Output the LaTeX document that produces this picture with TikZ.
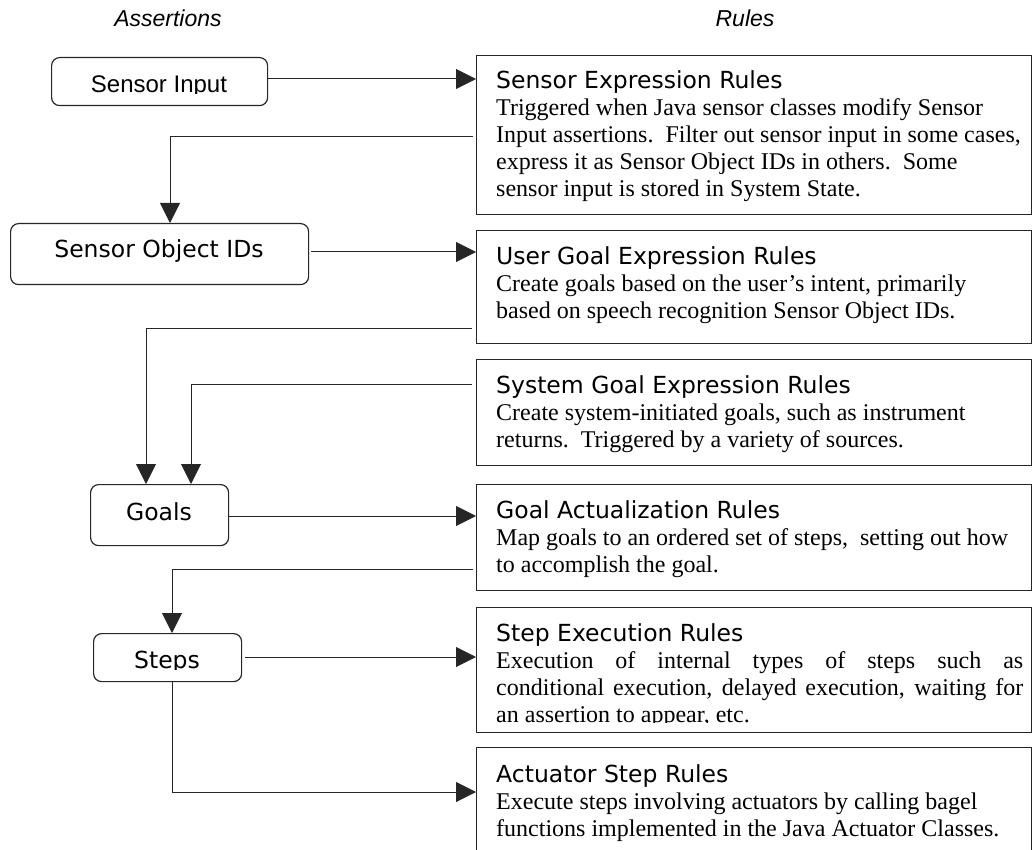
\documentclass[tikz,border=0pt]{standalone}
\usepackage{fontspec}
\setmainfont{Liberation Serif}
\newfontfamily\vfont{DejaVu Sans}
\newfontfamily\afont{Liberation Sans}
\usetikzlibrary{arrows.meta}
\newcommand{\ttl}[1]{{\vfont\fontsize{23.5}{27}\selectfont #1}}
\newcommand{\rtext}[1]{\parbox[t]{527pt}{\fontsize{24}{27}\selectfont\lineskiplimit=-100pt\tolerance=10000\hbadness=10000 #1}}
\begin{document}
\begin{tikzpicture}[x=1pt,y=-1pt,
  rulebox/.style={draw=black!85, line width=1.3pt, rectangle, inner sep=0pt, anchor=north west, minimum width=555pt},
  abox/.style={draw=black!85, line width=1.2pt, rectangle, rounded corners=8pt, inner sep=0pt, anchor=north west},
  alabel/.style={anchor=base, inner sep=0pt, font=\vfont\fontsize{23.5}{27}\selectfont},
  rlabel/.style={anchor=base west, inner sep=0pt},
  head/.style={anchor=base, inner sep=0pt, font=\afont\itshape\fontsize{23}{27}\selectfont},
  conn/.style={draw=black!85, line width=1pt},
  arr/.style={conn, -{Triangle[length=20pt,width=20pt]}}
]
\useasboundingbox (0,0) rectangle (1033,850);
\clip (0,0) rectangle (1033,850);

% headings
\node[head] (hA) at (168,27) {Assertions};
\node[head] (hR) at (745,27) {Rules};

% assertion boxes
\node[abox, minimum width=216pt, minimum height=48pt] (si) at (51,57) {};
\begin{scope}
  \clip (51,57) rectangle (267,94);
  \node[anchor=base, inner sep=0pt, font=\afont\fontsize{24}{28}\selectfont] (sit) at (159,93) {Sensor Input};
\end{scope}
\node[abox, minimum width=298pt, minimum height=61pt] (soid) at (10,223) {};
\node[alabel] (soidt) at (159,258) {Sensor Object IDs};
\node[abox, minimum width=138pt, minimum height=61pt] (goals) at (90,484) {};
\node[alabel] (goalst) at (159,520) {Goals};
\node[abox, minimum width=148pt, minimum height=48pt] (steps) at (93,633) {};
\begin{scope}
  \clip (93,633) rectangle (241,669);
  \node[alabel] (stepst) at (167,668) {Steps};
\end{scope}

% rule boxes
\node[rulebox, minimum height=159pt] (r1) at (476,55) {};
\node[rulebox, minimum height=113pt] (r2) at (476,230) {};
\node[rulebox, minimum height=106pt] (r3) at (476,359) {};
\node[rulebox, minimum height=106pt] (r4) at (476,484) {};
\node[rulebox, minimum height=125pt] (r5) at (476,607) {};
\node[rulebox, minimum height=130pt] (r6) at (476,747) {};

\node[rlabel] (t1) at (496,89) {\rtext{\raggedright\ttl{Sensor Expression Rules}\\
Triggered when Java sensor classes modify Sensor\\
Input assertions.\ \ Filter out sensor input in some cases,\\
express it as Sensor Object IDs in others.\ \ Some\\
sensor input is stored in System State.}};

\node[rlabel] (t2) at (496,265) {\rtext{\raggedright\ttl{User Goal Expression Rules}\\
Create goals based on the user’s intent, primarily\\
based on speech recognition Sensor Object IDs.}};

\node[rlabel] (t3) at (496,393) {\rtext{\raggedright\ttl{System Goal Expression Rules}\\
Create system-initiated goals, such as instrument\\
returns.\ \ Triggered by a variety of sources.}};

\node[rlabel] (t4) at (496,518) {\rtext{\raggedright\ttl{Goal Actualization Rules}\\
Map goals to an ordered set of steps,\ \ setting out how\\
to accomplish the goal.}};

\begin{scope}
  \clip (476,607) rectangle (1033,722);
  \node[rlabel] (t5) at (496,641) {\rtext{\ttl{Step Execution Rules}\\
  Execution of internal types of steps such as\linebreak
  conditional execution, delayed execution, waiting for\linebreak
  an assertion to appear, etc.}};
\end{scope}

\node[rlabel] (t6) at (496,782) {\rtext{\raggedright\ttl{Actuator Step Rules}\\
Execute steps involving actuators by calling bagel\\
functions implemented in the Java Actuator Classes.}};

% connector levels
\coordinate (y1) at (0,79);
\coordinate (y2) at (0,137);
\coordinate (y3) at (0,252);
\coordinate (y4) at (0,328);
\coordinate (y5) at (0,384);
\coordinate (y6) at (0,516);
\coordinate (y7) at (0,569);
\coordinate (y8) at (0,657);
\coordinate (y9) at (0,792);
\coordinate (x2) at (170,0);
\coordinate (x4) at (146,0);
\coordinate (x5) at (191,0);
\coordinate (x7) at (172,0);

% connectors
\draw[arr] (si.east |- y1) -- (r1.west |- y1);
\draw[arr] ([xshift=-3pt]r1.west |- y2) -| (x2 |- soid.north);
\draw[arr] ([xshift=2pt]soid.east |- y3) -- (r2.west |- y3);
\draw[arr] ([xshift=-4pt]r2.west |- y4) -| (x4 |- goals.north);
\draw[arr] ([xshift=-4pt]r3.west |- y5) -| (x5 |- goals.north);
\draw[arr] (goals.east |- y6) -- (r4.west |- y6);
\draw[arr] ([xshift=-3pt]r4.west |- y7) -| (x7 |- steps.north);
\draw[arr] ([xshift=3pt]steps.east |- y8) -- (r5.west |- y8);
\draw[arr] (x7 |- steps.south) |- (r6.west |- y9);
\end{tikzpicture}
\end{document}
